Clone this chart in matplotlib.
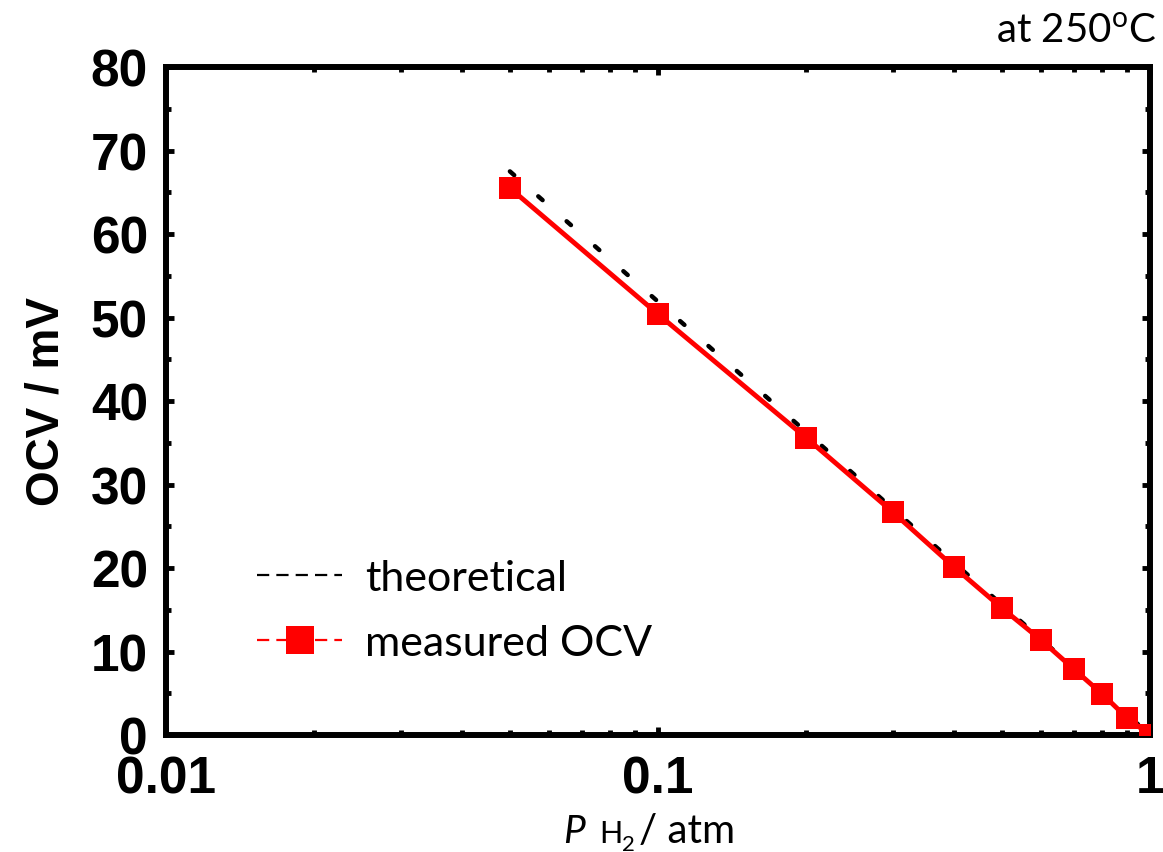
import matplotlib
matplotlib.use("Agg")
import matplotlib.pyplot as plt
from matplotlib.lines import Line2D
from matplotlib.ticker import LogLocator, FixedLocator, NullFormatter

p_h2 = [0.05, 0.1, 0.2, 0.3, 0.4, 0.5, 0.6, 0.7, 0.8, 0.9, 1.0]
ocv_theoretical = [67.5, 51.9, 36.3, 27.1, 20.6, 15.6, 11.5, 8.0, 5.0, 2.4, 0.0]
ocv_measured = [65.5, 50.4, 35.6, 26.7, 20.1, 15.2, 11.4, 7.9, 4.9, 2.0, 0.0]
x_ticks = [0.01, 0.1, 1]
x_ticklabels = ["0.01", "0.1", "1"]
y_ticks = [0, 10, 20, 30, 40, 50, 60, 70, 80]
y_minor = [5, 15, 25, 35, 45, 55, 65, 75]
legend_labels = ["theoretical", "measured OCV"]

W, H = 1163, 853
fig = plt.figure(figsize=(W / 100, H / 100), dpi=100)
L, R, T, B = 166, 1150, 68, 736
ax = fig.add_axes([L / W, 1 - B / H, (R - L) / W, (B - T) / H])

ax.plot(p_h2, ocv_theoretical, color="black", linestyle=(0, (1.3, 7.2)), linewidth=3.2,
        dash_capstyle="round", zorder=2)
ax.plot(p_h2, ocv_measured, color="red", linestyle="-", linewidth=3.5, marker="s",
        markersize=15.8, markeredgewidth=0, zorder=3)

ax.set_xscale("log")
ax.set_xlim(0.01, 1)
ax.set_ylim(0, 80)
ax.xaxis.set_major_locator(FixedLocator(x_ticks))
ax.set_xticklabels(x_ticklabels)
ax.xaxis.set_minor_locator(LogLocator(base=10, subs=range(2, 10)))
ax.xaxis.set_minor_formatter(NullFormatter())
ax.yaxis.set_major_locator(FixedLocator(y_ticks))
ax.yaxis.set_minor_locator(FixedLocator(y_minor))

for s in ax.spines.values():
    s.set_linewidth(4.3)

ax.tick_params(which="both", direction="in", top=True, right=True, width=3.5)
ax.tick_params(which="major", length=6)
ax.tick_params(which="minor", length=3.5)
ax.tick_params(axis="y", which="major", pad=13)
ax.tick_params(axis="x", which="major", pad=14)
for lab in ax.get_xticklabels() + ax.get_yticklabels():
    lab.set_fontfamily("Liberation Sans")
    lab.set_fontweight("bold")
    lab.set_fontsize(37)

ax.set_ylabel("OCV / mV", fontfamily="Liberation Sans", fontweight="bold", fontsize=33, labelpad=16)

def fx(px):
    return px / W

def fy(py):
    return 1 - py / H

# x-axis label built from pieces: italic P, smaller H with subscript 2, "/ atm"
fig.canvas.draw()
rend = fig.canvas.get_renderer()
pieces = [
    ("P", dict(fontfamily="Lato", fontstyle="italic", fontsize=28), 843, 14),
    ("H", dict(fontfamily="Lato", fontsize=22), 843, 0),
    ("2", dict(fontfamily="Lato", fontsize=16), 851, 4),
    ("/ atm", dict(fontfamily="Lato", fontsize=29), 843, 0),
]
xcur = 563
for txt, kw, base, gap in pieces:
    t = fig.text(fx(xcur), fy(base), txt, ha="left", va="baseline", **kw)
    bb = t.get_window_extent(rend)
    xcur = xcur + bb.width + gap

fig.text(fx(1156), fy(43), "at 250$^{\\mathregular{o}}$C", ha="right", va="baseline",
         fontfamily="Lato", fontsize=29)

handles = [
    Line2D([], [], color="black", linestyle=(0, (5.5, 3.2)), linewidth=1.6),
    Line2D([], [], color="red", linestyle=(0, (5.5, 3.2)), linewidth=1.6, marker="s",
           markersize=19.5, markeredgewidth=0),
]
leg = fig.legend(handles, legend_labels, loc="upper left",
                 bbox_to_anchor=(fx(257), fy(560)), borderaxespad=0, borderpad=0,
                 frameon=False, handlelength=1.98, handletextpad=0.53, labelspacing=0.62,
                 prop={"family": "Lato", "size": 31})

fig.savefig("out.png", dpi=100)
